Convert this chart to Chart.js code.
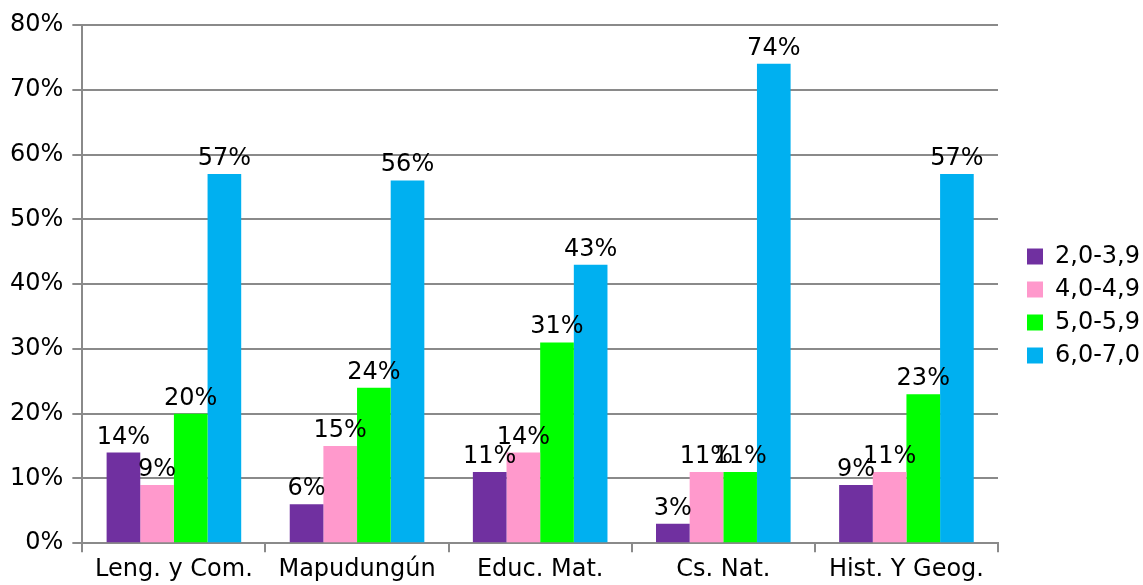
<!DOCTYPE html>
<html>
<head>
<meta charset="utf-8">
<script src="https://cdn.jsdelivr.net/npm/chart.js@4"></script>
<style>
html,body{margin:0;padding:0;background:#fff;}
#wrap{width:1143px;height:585px;}
</style>
</head>
<body>
<div id="wrap"><canvas id="c" width="1143" height="585"></canvas></div>
<script>
const categories = ["Leng. y Com.", "Mapudungún", "Educ. Mat.", "Cs. Nat.", "Hist. Y Geog."];
const seriesNames = ["2,0-3,9", "4,0-4,9", "5,0-5,9", "6,0-7,0"];
const s1 = [14, 6, 11, 3, 9];
const s2 = [9, 15, 14, 11, 11];
const s3 = [20, 24, 31, 11, 23];
const s4 = [57, 56, 43, 74, 57];
const colors = ["#7030A0", "#FF99CC", "#00FF00", "#00B0F0"];
const yTicks = [0, 10, 20, 30, 40, 50, 60, 70, 80];

const FONT = "DejaVu Sans";
const FS = 24;
const gridColor = "#8a8a8a";

const labelPlugin = {
  id: "barLabels",
  afterDatasetsDraw(chart) {
    const ctx = chart.ctx;
    ctx.save();
    ctx.font = FS + "px '" + FONT + "'";
    ctx.fillStyle = "#000";
    ctx.textAlign = "center";
    ctx.textBaseline = "alphabetic";
    chart.data.datasets.forEach((ds, i) => {
      const meta = chart.getDatasetMeta(i);
      meta.data.forEach((bar, j) => {
        ctx.fillText(ds.data[j] + "%", bar.x, bar.y - 9);
      });
    });
    ctx.restore();
  }
};

const data = {
  labels: categories,
  datasets: [s1, s2, s3, s4].map((d, i) => ({
    label: seriesNames[i],
    data: d,
    backgroundColor: colors[i],
    borderWidth: 0,
    categoryPercentage: 0.735,
    barPercentage: 1.0
  }))
};

new Chart(document.getElementById("c"), {
  type: "bar",
  data,
  options: {
    responsive: false,
    animation: false,
    layout: { padding: { left: 1, top: 25, right: -7, bottom: -2 } },
    plugins: {
      tooltip: { enabled: false },
      legend: {
        position: "right",
        align: "center",
        labels: {
          font: { family: FONT, size: FS },
          color: "#000",
          boxWidth: 16,
          boxHeight: 16,
          padding: 9
        }
      }
    },
    scales: {
      x: {
        offset: true,
        grid: {
          display: true,
          offset: true,
          drawOnChartArea: false,
          drawTicks: true,
          tickLength: 9,
          color: gridColor,
          lineWidth: 2
        },
        border: { color: gridColor, width: 2 },
        ticks: {
          font: { family: FONT, size: FS },
          color: "#000",
          padding: 3,
          maxRotation: 0,
          autoSkip: false
        }
      },
      y: {
        min: 0,
        max: 80,
        afterBuildTicks(axis) { axis.ticks = yTicks.map(v => ({ value: v })); },
        grid: {
          color: gridColor,
          lineWidth: 2,
          tickLength: 10
        },
        border: { color: gridColor, width: 2 },
        ticks: {
          font: { family: FONT, size: FS },
          color: "#000",
          padding: 9,
          callback: v => v + "%"
        }
      },
      ySpacer: {
        position: "right",
        min: 0,
        max: 80,
        grid: { display: false, drawTicks: false },
        border: { display: false },
        ticks: { display: false },
        afterFit(axis) { axis.width = 20; }
      }
    }
  },
  plugins: [labelPlugin]
});
</script>
</body>
</html>
